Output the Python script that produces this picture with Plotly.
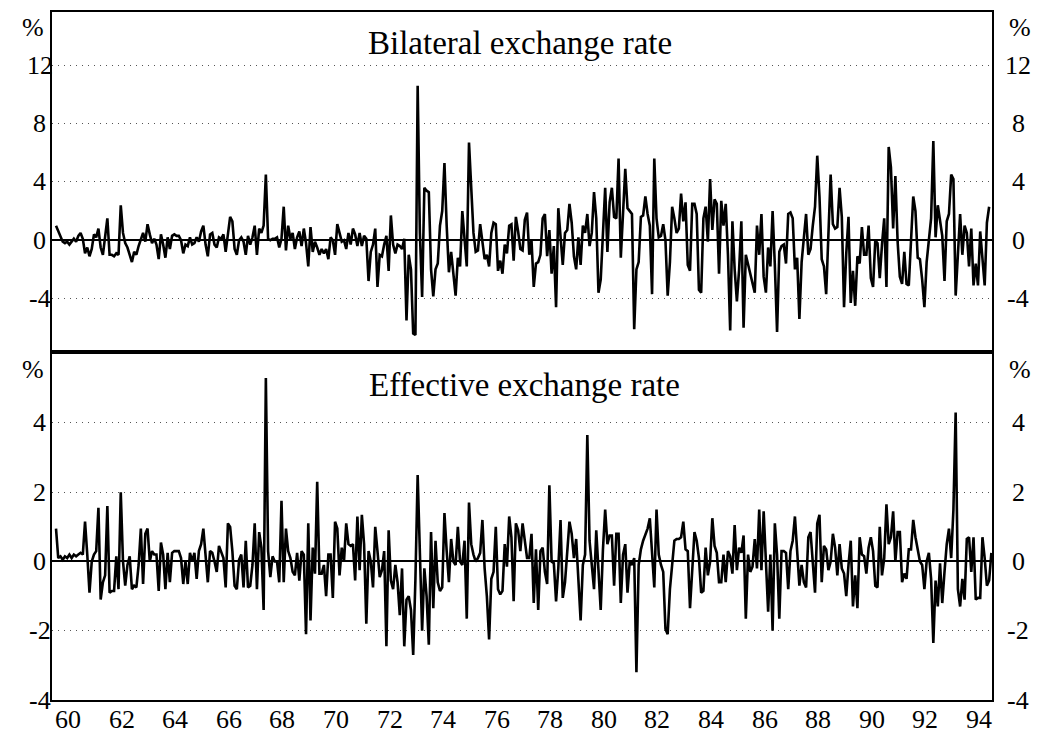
import plotly.graph_objects as go

# Monthly percentage changes, mid-1959 to mid-1994
start_year = 59.55

bilateral = [
    1.0, 0.6, 0.2, -0.1, -0.2, -0.1, -0.3, -0.1, 0.1, -0.1, 0.3, 0.5, 0.1, -0.9, -0.5,
    -1.1, -0.6, 0.4, 0.2, 0.8, -0.5, -1.0, 0.2, 1.5, -1.0, -1.0, -1.1, -0.9, -1.0, 2.4,
    0.5, -0.2, -0.5, -1.0, -1.5, -0.8, -1.0, -0.4, 0.0, 0.5, -0.1, 1.1, 0.4, -0.2, 0.1,
    -0.3, -1.3, 0.4, -0.3, -1.2, 0.2, -0.6, 0.3, 0.4, 0.3, 0.3, 0.0, -0.9, -0.3, -0.4,
    0.2, -0.3, -0.2, 0.2, -0.1, 0.6, 1.0, -0.3, -1.1, 0.4, 0.5, -0.3, -0.5, 0.2, 0.1,
    0.4, -0.8, 0.5, 1.6, 1.3, -0.6, -1.0, 0.0,
    0.2, -0.1, -1.0, 0.3, -0.3, 0.2, 1.0, -1.0, 0.8, 0.5, 1.0, 4.5, 0.1, 0.0, 0.1,
    0.1, 0.2, -0.5, 0.1, 2.3, -0.7, 1.0, 0.1, 0.5, -0.6, 0.2, 0.6, -0.4, 0.8, -0.2,
    -1.8, 0.9, -0.8, -0.1, -0.5, -1.0, -0.6, -0.9, -0.6, -1.3, 0.2, 0.0, -1.0, 1.1, 0.5,
    -0.1, 0.0, -0.6, 0.5, -0.3, 0.8, 0.4, -0.4, 0.5, -0.4, 0.3, 0.1, -2.8, -0.8, -0.3,
    0.8, -3.2, -1.0, -1.1, -0.3, 0.3, -2.1, 1.7, -0.3, -0.9, -0.3, -0.4, -0.6, 0.1, -5.5,
    -1.0, -2.0, -6.4, -6.5, 10.6, 0.5, -3.9, 3.6, 3.4, 3.3,
    -2.0, -3.85, -2.0, -1.6, 1.0, 2.0, 5.3, 1.0, -2.2, -0.8, -2.5, -3.8, -1.2, -1.8, 2.0,
    0.0, -1.8, 6.7, 3.0, 0.5, -0.8, -0.7, 1.1, 0.0, -1.3, -1.0, -1.8, 0.5, 1.2, 1.1,
    -2.1, -1.4, -2.3, -0.3, -0.9, 1.0, 1.1, -1.4, 1.6, 0.6, -0.6, -0.7, 1.4, 1.9, -1.0,
    0.0, -3.2, -1.6, -1.5, -1.0, 1.5, 1.8, -1.1, 0.7, -2.3, -0.4, -4.6, 2.2, 0.5, -1.7,
    0.5, 0.7, 2.5, 1.2, -1.1, -2.0, 0.2, -1.7, 1.0, 0.5, 1.8, -0.4, 0.5, 3.3, 1.5,
    -3.6, -2.7, 1.0, 3.6, -0.8, 2.6, 3.6, 1.6, 1.5, 5.6,
    -1.2, 1.9, 4.9, 2.2, 2.0, 1.8, -6.1, -2.0, -1.5, 1.6, 1.7, 3.0, 1.8, 1.0, -3.7,
    5.6, 1.5, 0.2, 0.3, 1.1, 0.0, -3.8, -1.5, 2.3, 1.5, 0.5, 0.8, 3.2, 1.3, 2.6,
    -1.7, -2.1, 2.5, 2.5, 1.8, -3.4, -3.6, 1.5, 2.3, -0.1, 4.2, 0.7, 2.8, 2.5, -2.3,
    2.7, 1.0, 2.5, -1.0, -6.2, 1.3, -2.0, -4.2, -2.0, 1.3, -6.0, -1.0, -1.6, -2.3, -3.0,
    -3.6, 1.0, -1.0, 1.8, -2.5, -3.6, -0.5, -1.8, 2.0, -1.7, -6.3, -0.8, -0.4, -0.3, -1.6,
    1.8, 1.9, 1.5, -2.0, -1.2, -5.4, -1.5, 0.3, 1.8, -1.0,
    -0.6, 1.0, 2.3, 5.8, 3.0, -1.3, -1.8, -3.7, 0.0, 4.5, 1.1, 0.8, 0.9, 3.6, 1.6,
    -4.6, -0.9, 1.6, -4.3, -2.1, -4.5, -1.1, -1.6, 0.9, -1.0, -1.0, 1.0, -2.6, -3.2, 0.0,
    -0.2, -2.6, -0.3, 1.5, -3.2, 6.4, 5.0, 0.8, 4.4, -0.1, -2.5, -3.0, -0.8, -3.0, -3.1,
    0.0, 3.0, 2.0, -1.2, -1.3, -2.7, -4.6, -1.5, 0.0, 1.5, 6.8, 0.2, 2.4, 1.3, 0.3,
    -2.8, 1.3, 1.8, 4.5, 4.2, -3.8, -1.0, 1.8, -1.0, 1.0, 0.5, -1.8, 0.8, -3.1, -1.6,
    -3.1, 0.6, -1.0, -3.1, 1.2, 2.3,
]

effective = [
    0.95, 0.1, 0.15, 0.05, 0.15, 0.1, 0.2, 0.1, 0.2, 0.15, 0.2, 0.25, 0.2, 1.15, 0.2,
    -0.9, 0.0, 0.2, 0.3, 1.55, -1.1, -0.6, -0.4, 1.6, -0.9, -0.85, -0.85, 0.15, -0.8, 2.0,
    0.0, -0.7, -0.1, 0.15, -0.8, -0.7, -0.75, -0.1, 0.95, -0.65, 0.8, 0.95, 0.0, 0.3, 0.2,
    0.2, -0.85, 0.55, 0.2, -0.8, 0.25, -0.6, 0.25, 0.3, 0.3, 0.3, 0.1, -0.65, 0.0, -0.65,
    0.25, 0.0, 0.25, -0.5, 0.3, 0.5, 0.95, 0.2, -0.6, 0.3, 0.25, 0.0, -0.3, 0.45, 0.3,
    0.1, -0.75, 1.1, 1.0, 0.3, -0.7, -0.8, 0.05,
    0.2, -0.75, 0.6, -0.75, -0.7, -0.1, 1.1, -0.8, 0.85, 0.4, -1.4, 5.3, 0.3, -0.45, 0.15,
    0.0, 0.0, -0.6, 1.75, -0.6, 0.95, 0.3, 0.1, -0.3, -0.4, 0.25, -0.55, 0.3, 0.2, -2.1,
    1.1, -1.7, 0.4, -0.35, 2.3, -0.35, -0.35, -0.1, -1.0, 0.2, 0.2, -1.05, 1.15, 0.95, -0.4,
    0.4, 0.0, 1.1, 0.5, 0.45, 0.5, -0.55, 1.3, -0.25, 1.35, 0.5, -1.8, 0.3, 0.0, -0.75,
    1.0, 0.3, -0.45, -0.25, 0.3, -2.45, 0.9, -0.55, -0.8, -0.1, -0.6, -1.55, -0.2, -2.45, -1.1,
    -1.0, -1.4, -2.7, -0.5, 2.5, 0.5, -2.0, -0.2, -1.0, -2.4,
    0.85, -1.35, 0.6, -0.6, -0.85, -0.75, 1.4, 0.3, -0.6, 0.65, 0.0, -0.1, 1.0, 0.0, -0.1,
    0.6, -1.65, 1.7, 0.5, 0.2, 0.0, 0.1, 0.25, 1.2, -0.2, -1.0, -2.25, -0.5, -0.3, 1.0,
    -0.8, -0.95, -0.85, 0.5, -0.15, 1.3, 0.7, -1.15, 1.1, 0.9, 0.3, 1.1, 0.6, 0.1, 0.1,
    0.8, -1.2, 0.35, -1.4, 0.3, 0.4, -0.3, -0.65, 2.2, 0.0, -0.05, -1.15, -0.2, 1.2, -1.05,
    -0.6, 0.3, 1.15, 0.8, 0.1, 0.65, -0.45, -1.7, -0.1, 0.2, 3.65, 0.6, -0.1, -0.8, 0.9,
    -0.1, -1.4, 0.35, 1.5, 0.5, 0.75, 0.75, -0.7, 0.8, 0.8,
    -1.2, 0.2, 0.5, -0.9, 0.0, -0.1, 0.1, -3.2, -0.1, 0.35, 0.6, 0.8, 0.95, 1.25, 0.2,
    -0.75, 1.5, 0.2, -0.1, -0.3, -1.95, -2.1, -0.8, 0.0, 0.6, 0.65, 0.65, 0.7, 1.15, 0.35,
    0.3, -1.35, -0.3, 0.85, 0.6, 0.1, -0.9, -0.85, 0.4, -0.4, 0.0, 1.25, 0.45, 0.25, -0.6,
    -0.6, 0.2, -0.6, 0.3, 0.15, -0.35, 1.05, -0.25, 0.4, 0.25, 0.75, -1.65, 0.2, -0.3, -0.15,
    0.65, -0.2, 1.5, -0.25, 1.45, -0.1, -1.45, 0.2, -2.0, 1.1, 0.2, -1.65, 0.3, 0.3, 0.25,
    -0.8, 0.3, 0.6, 1.3, 0.3, -0.7, -0.1, -0.6, -0.75, 0.7, 0.85,
    0.0, -0.9, 1.1, 1.35, -0.6, 0.45, 0.35, -0.25, 0.0, 0.8, 0.4, -0.4, 0.5, -0.2, -0.35,
    -1.0, -0.1, 0.6, -1.3, -0.4, -1.35, 0.7, 0.2, 0.15, -0.35, 0.4, 0.7, 0.3, -0.7, -0.75,
    1.0, -0.4, 0.1, 1.65, 0.5, 0.7, 1.45, 0.0, 0.85, 0.85, -0.6, -0.35, -0.5, 0.35, 0.35,
    1.2, 0.7, 0.3, 0.0, -0.1, -0.8, 0.0, 0.25, -0.5, -2.35, -0.55, -1.3, -0.05, -1.2, -0.3,
    0.5, 0.95, 0.1, 1.5, 4.3, -0.8, -1.3, -0.5, -1.1, 0.65, 0.7, -0.3, 0.7, -1.1, -1.05,
    -1.05, 0.7, 0.1, -0.7, -0.55, 0.25,
]

year_ticks = list(range(60, 95, 2))
year_labels = [str(y) for y in year_ticks]
top_ticks = [-4, 0, 4, 8, 12]
bottom_ticks = [-4, -2, 0, 2, 4]

top_range = [-7.67, 15.66]
bottom_range = [-4.0, 6.05]
x_range = [59.40, 94.49]

x_top = [start_year + i / 12 for i in range(len(bilateral))]
x_bottom = [start_year + i / 12 for i in range(len(effective))]

FONT = "Liberation Serif"
TICK_SIZE = 26
line_style = dict(color="black", width=2.6)
label_font = dict(family=FONT, size=TICK_SIZE, color="black")

fig = go.Figure()
fig.add_trace(go.Scatter(x=x_top, y=bilateral, mode="lines", line=line_style,
                         xaxis="x2", yaxis="y2", showlegend=False, hoverinfo="skip"))
fig.add_trace(go.Scatter(x=x_bottom, y=effective, mode="lines", line=line_style,
                         xaxis="x", yaxis="y", showlegend=False, hoverinfo="skip"))

split = 348 / 688

frame = dict(showline=True, mirror=True, linecolor="black", linewidth=2, automargin=False)
grid = dict(showgrid=True, gridcolor="#555555", gridwidth=1, griddash="1px,5px",
            zeroline=True, zerolinecolor="black", zerolinewidth=2)

fig.update_layout(
    width=1047, height=736,
    margin=dict(l=52, r=55, t=12, b=36, autoexpand=False),
    paper_bgcolor="white", plot_bgcolor="white",
    font=dict(family=FONT, size=TICK_SIZE, color="black"),
    xaxis=dict(domain=[0, 1], range=x_range, anchor="y", showticklabels=False,
               ticks="", showgrid=False, zeroline=False, **frame),
    xaxis2=dict(domain=[0, 1], range=x_range, anchor="y2", showticklabels=False,
                ticks="", showgrid=False, zeroline=False, **frame),
    yaxis=dict(domain=[0, split], range=bottom_range, tickvals=bottom_ticks,
               showticklabels=False, ticks="", **grid, **frame),
    yaxis2=dict(domain=[split, 1], range=top_range, tickvals=top_ticks,
                showticklabels=False, ticks="", **grid, **frame),
)

annotations = []

# year labels under the lower panel
for yr, txt in zip(year_ticks, year_labels):
    annotations.append(dict(x=yr, y=-0.029, xref="x", yref="paper", text=txt,
                            showarrow=False, xanchor="center", yanchor="middle",
                            font=label_font))


def side_labels(values, yref):
    for v in values:
        for xp in (-0.0128, 1.0277):
            annotations.append(dict(x=xp, y=v, xref="paper", yref=yref, text=str(v),
                                    showarrow=False, xanchor="center", yanchor="middle",
                                    font=label_font))


side_labels(top_ticks, "y2")
side_labels(bottom_ticks, "y")

# percent markers above each axis scale
for yp in (0.978, 0.4797):
    for xp in (-0.0202, 1.0298):
        annotations.append(dict(x=xp, y=yp, xref="paper", yref="paper", text="%",
                                showarrow=False, xanchor="center", yanchor="middle",
                                font=label_font))

title_font = dict(family=FONT, size=33, color="black")
annotations.append(dict(x=0.498, y=0.955, xref="paper", yref="paper",
                        text="Bilateral exchange rate", showarrow=False,
                        xanchor="center", yanchor="middle", font=title_font))
annotations.append(dict(x=0.503, y=0.458, xref="paper", yref="paper",
                        text="Effective exchange rate", showarrow=False,
                        xanchor="center", yanchor="middle", font=title_font))

fig.update_layout(annotations=annotations)

fig.write_html("out.html")
